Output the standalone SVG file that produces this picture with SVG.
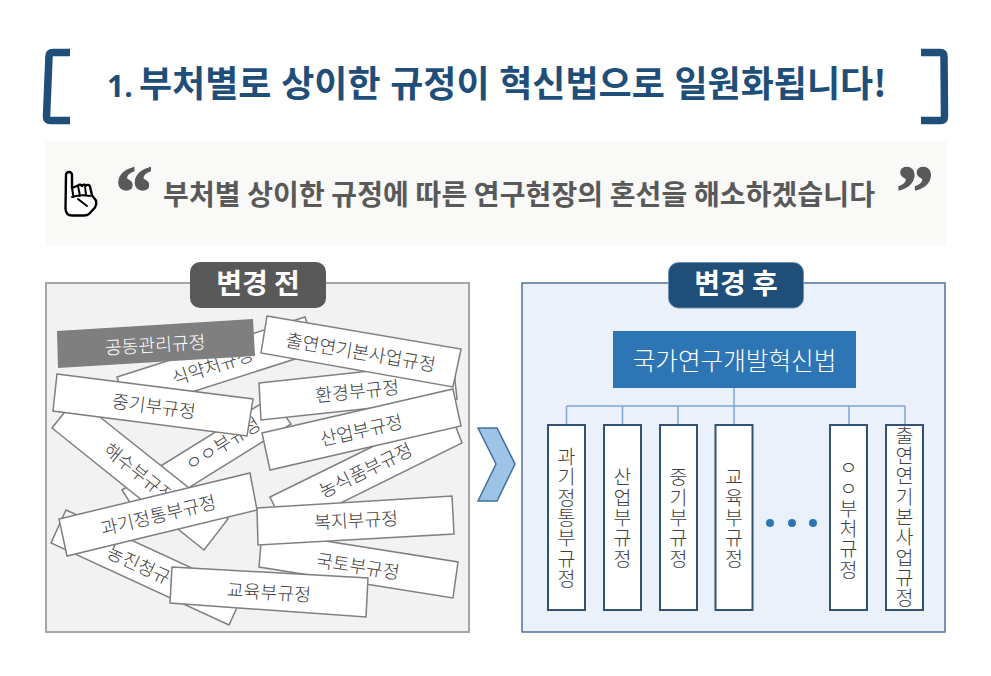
<svg xmlns="http://www.w3.org/2000/svg" width="991" height="676" viewBox="0 0 991 676">
<style>
text{font-family:"Noto Sans CJK KR","Noto Sans",sans-serif}
.strip{fill:#fff;stroke:#7f7f7f;stroke-width:1.5}
.st{font-size:18.300px;fill:#404040;text-anchor:middle;dominant-baseline:central;font-weight:300}
.tag{font-size:28px;font-weight:700;fill:#fff;text-anchor:middle}
.brk{fill:none;stroke:#1f4e79;stroke-width:7.500;stroke-linejoin:round}
.q{font-family:"Liberation Serif",serif;font-size:75px;font-weight:700;fill:#595959;stroke:#595959;stroke-width:1.300;text-anchor:middle}
.law{fill:#fff;stroke:#2f5275;stroke-width:2}
.v{font-size:19.500px;fill:#404040;writing-mode:vertical-rl;text-anchor:middle;letter-spacing:.8px;font-weight:300}
.conn{fill:none;stroke:#7ba7d7;stroke-width:1.5}
</style>
<rect width="991" height="676" fill="#fff"/>
<g id="title">
<path class="brk" d="M70,52.500H53Q49,52.500 49,56.500L46.500,116.500Q46.500,120.500 50.500,120.500H70"/>
<path class="brk" d="M921,52.500H940Q944,52.500 944,56.500L944.500,116.500Q944.500,120.500 940.500,120.500H921"/>
<text y="97" font-size="36" font-weight="700" fill="#1f4e79" word-spacing="1.500"><tspan x="107" font-family="'Open Sans',sans-serif" font-size="30">1.</tspan> <tspan x="139">부처별로 상이한 규정이 혁신법으로 일원화됩니다!</tspan></text>
</g>
<g id="banner">
<rect x="46" y="141" width="900" height="104" fill="#f9f9f7"/>
<path d="M66,175a3,3 0 0 1 6,0V188L78,185.500a2.500,2.500 0 0 1 4,.5a2.500,2.500 0 0 1 4,-.5a2.500,2.500 0 0 1 4,1L92,195.500L96,200.500Q97,204 95,207.500L89,214Q87,215.500 84,215.500H72Q66,215.500 65.500,209Z" fill="#fff" stroke="#000" stroke-width="2.400" stroke-linejoin="round"/>
<path d="M72,188L73.500,197M78,186L80,196M85,186L86,195M72,197Q80,194 90,196M78,199L87,206" fill="none" stroke="#000" stroke-width="2" stroke-linecap="round"/>
<text class="q" x="134" y="217">“</text>
<text class="q" x="915" y="217">”</text>
<text x="519" y="205" font-size="28" font-weight="700" fill="#595959" text-anchor="middle" textLength="712">부처별 상이한 규정에 따른 연구현장의 혼선을 해소하겠습니다</text>
</g>
<g id="panel-before">
<rect x="46" y="283" width="423" height="349" fill="#f2f2f2" stroke="#a6a6a6" stroke-width="2"/>
</g>
<g id="strip-nongjin"><polygon class="strip" points="66,510 244,592 229,625 51,543"/><text class="st" transform="translate(147,567) rotate(24.700)">농진청규정</text></g>
<g id="strip-oo"><polygon class="strip" points="122,490 272,397 291,424 140,518"/><text class="st" transform="translate(222,443) rotate(-32)">ㅇㅇ부규정</text></g>
<g id="strip-haesu"><polygon class="strip" points="76,398 228,519 204,550 52,428"/><text class="st" transform="translate(140,472) rotate(38.700)">해수부규정</text></g>
<g id="strip-sikyak"><polygon class="strip" points="117,377 305,317 317,352 129,412"/><text class="st" transform="translate(212,365) rotate(-18)">식약처규정</text></g>
<g id="strip-gongdong"><polygon points="57,331 253,319 255,356 58,368" fill="#7f7f7f"/><text class="st" style="fill:#fff" transform="translate(155,343.500) rotate(-3.500)">공동관리규정</text></g>
<g id="strip-junggi"><polygon class="strip" points="57,374 253,399 247,436 53,411"/><text class="st" transform="translate(154,405) rotate(7.300)">중기부규정</text></g>
<g id="strip-hwangyeong"><polygon class="strip" points="259,383 453,362 457,399 261,420"/><text class="st" transform="translate(357,390) rotate(-6)">환경부규정</text></g>
<g id="strip-chulyeon"><polygon class="strip" points="267,316 461,349 453,387 261,353"/><text class="st" transform="translate(361,351) rotate(9.600)">출연연기본사업규정</text></g>
<g id="strip-nongsik"><polygon class="strip" points="270,497 449,409 462,443 286,530"/><text class="st" transform="translate(365,469) rotate(-26)">농식품부규정</text></g>
<g id="strip-saneop"><polygon class="strip" points="262,433 453,389 461,426 270,470"/><text class="st" transform="translate(361,429) rotate(-12.800)">산업부규정</text></g>
<g id="strip-gukto"><polygon class="strip" points="262,531 458,562 453,598 259,567"/><text class="st" transform="translate(358,565) rotate(8.900)">국토부규정</text></g>
<g id="strip-bokji"><polygon class="strip" points="257,508 452,496 454,534 258,545"/><text class="st" transform="translate(356,519) rotate(-3)">복지부규정</text></g>
<g id="strip-gwagi"><polygon class="strip" points="59,519 250,473 257,510 67,556"/><text class="st" transform="translate(158,514) rotate(-13.600)">과기정통부규정</text></g>
<g id="strip-gyoyuk"><polygon class="strip" points="172,567 368,578 366,617 170,603"/><text class="st" transform="translate(269,591) rotate(3.600)">교육부규정</text></g>
<g id="tag-before"><rect x="190" y="262" width="136" height="46" rx="10" fill="#595959"/><text class="tag" x="258" y="294">변경 전</text></g>
<g id="arrow"><polygon points="478,428 497,428 515,464 497,501 478,501 496,464" fill="#9dc3e6" stroke="#41719c" stroke-width="1.500"/></g>
<g id="panel-after"><rect x="522" y="283" width="423" height="349" fill="#eaf1fa" stroke="#4f7199" stroke-width="1.500"/></g>
<g id="tag-after"><rect x="668.500" y="262.500" width="135" height="45.500" rx="10" fill="#1f4e79" stroke="#6f8fb3" stroke-width="1"/><text class="tag" x="736" y="294">변경 후</text></g>
<g id="connectors">
<path class="conn" d="M734,388V406M566.500,406H905M566.500,406V425M622.500,406V425M678,406V425M734,406V425M849,406V425M905,406V425"/>
</g>
<g id="law-main"><rect x="613" y="331" width="243" height="57" fill="#2e75b6"/><text x="734.500" y="359" font-size="24.600" fill="#fff" text-anchor="middle" dominant-baseline="central" font-weight="300">국가연구개발혁신법</text></g>
<g id="law-1"><rect class="law" x="548" y="425" width="37" height="185"/><text class="v" x="566.500" y="518">과기정통부규정</text></g>
<g id="law-2"><rect class="law" x="604" y="425" width="37" height="185"/><text class="v" x="622.500" y="518">산업부규정</text></g>
<g id="law-3"><rect class="law" x="660" y="425" width="37" height="185"/><text class="v" x="678.500" y="518">중기부규정</text></g>
<g id="law-4"><rect class="law" x="715.500" y="425" width="37" height="185"/><text class="v" x="734" y="518">교육부규정</text></g>
<g id="dots"><circle cx="770" cy="523" r="4" fill="#2e75b6"/><circle cx="792" cy="523" r="4" fill="#2e75b6"/><circle cx="813" cy="523" r="4" fill="#2e75b6"/></g>
<g id="law-5"><rect class="law" x="830" y="425" width="37" height="185"/><text class="v" x="848.500" y="519">ㅇㅇ부처규정</text></g>
<g id="law-6"><rect class="law" x="886" y="425" width="37" height="185"/><text class="v" x="904.500" y="517">출연연기본사업규정</text></g>
</svg>
